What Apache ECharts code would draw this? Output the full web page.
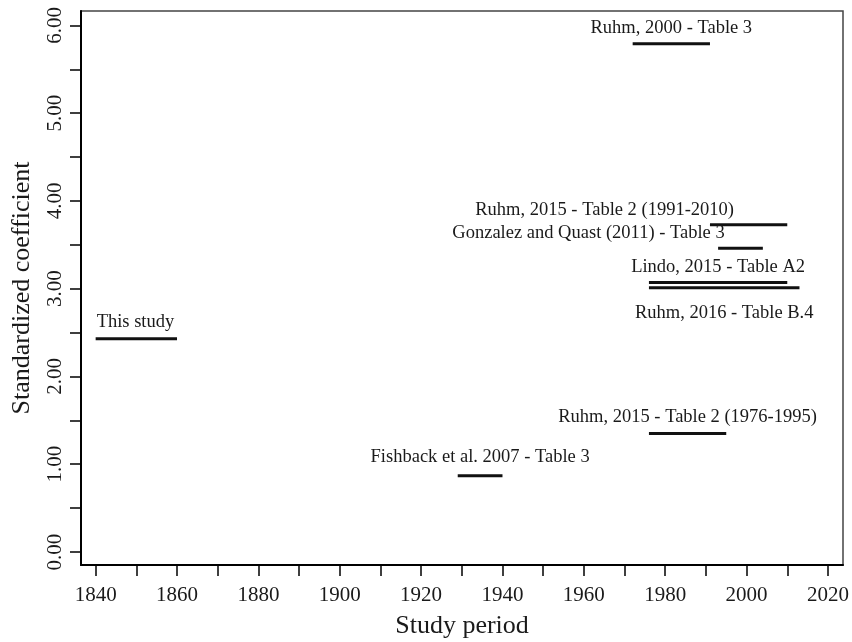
<!DOCTYPE html>
<html>
<head>
<meta charset="utf-8">
<script src="https://cdn.jsdelivr.net/npm/echarts@6/dist/echarts.min.js"></script>
<style>
html,body{margin:0;padding:0;background:#fff;}
#chart{width:852px;height:642px;}
</style>
</head>
<body>
<div id="chart"></div>
<script>
// ---- data ----
const studies = [
  'This study',
  'Fishback et al. 2007 - Table 3',
  'Ruhm, 2015 - Table 2 (1976-1995)',
  'Ruhm, 2000 - Table 3',
  'Ruhm, 2015 - Table 2 (1991-2010)',
  'Gonzalez and Quast (2011) - Table 3',
  'Lindo, 2015 - Table A2',
  'Ruhm, 2016 - Table B.4'
];
const startYear = [1840, 1929, 1976, 1972, 1991, 1993, 1976, 1976];
const endYear   = [1860, 1940, 1995, 1991, 2010, 2004, 2010, 2013];
const coefficient = [2.43, 0.87, 1.35, 5.79, 3.73, 3.46, 3.07, 3.01];

const xTickValues = [1840,1850,1860,1870,1880,1890,1900,1910,1920,1930,1940,1950,1960,1970,1980,1990,2000,2010,2020];
const xLabelValues = [1840,1860,1880,1900,1920,1940,1960,1980,2000,2020];
const yTickValues = [0,0.5,1,1.5,2,2.5,3,3.5,4,4.5,5,5.5,6];
const yLabelValues = [0,1,2,3,4,5,6];

// ---- label styling (pixel offsets from segment) ----
const labelAlign = ['left','center','center','center','center','center','center','center'];
const labelDx = [1, 0, 0, 0, -144, -152, 0, 0];
const labelDy = [-17, -19, -16, -16, -14, -15, -15, 25];

const FONT = '"Liberation Serif", "Times New Roman", serif';
const TEXT = '#1a1a1a';

const seriesData = studies.map((s, i) => [startYear[i], endYear[i], coefficient[i], i]);

const chart = echarts.init(document.getElementById('chart'));
chart.setOption({
  backgroundColor: '#fff',
  animation: false,
  grid: {
    left: 81, right: 9, top: 11, bottom: 77,
    outerBoundsMode: 'none',
    containLabel: false,
    show: true, borderColor: '#444', borderWidth: 1.5, backgroundColor: 'transparent'
  },
  xAxis: {
    type: 'value',
    min: 1836.4, max: 2023.7,
    name: 'Study period',
    nameLocation: 'middle',
    nameGap: 48,
    nameTextStyle: { fontFamily: FONT, fontSize: 26, color: TEXT },
    axisLine: { show: true, onZero: false, lineStyle: { color: '#000', width: 2 } },
    axisTick: { show: true, length: 11, lineStyle: { color: '#000', width: 1.5 }, customValues: xTickValues },
    axisLabel: { fontFamily: FONT, fontSize: 21, color: TEXT, margin: 20, customValues: xLabelValues,
      formatter: v => String(Math.round(v)) },
    splitLine: { show: false }
  },
  yAxis: {
    type: 'value',
    min: -0.148, max: 6.164,
    name: 'Standardized coefficient',
    nameLocation: 'middle',
    nameRotate: 90,
    nameGap: 46,
    nameTextStyle: { fontFamily: FONT, fontSize: 26, color: TEXT },
    axisLine: { show: true, onZero: false, lineStyle: { color: '#000', width: 2 } },
    axisTick: { show: true, length: 11, lineStyle: { color: '#000', width: 1.5 }, customValues: yTickValues },
    axisLabel: {
      fontFamily: FONT, fontSize: 21, color: TEXT, margin: 15, rotate: 90,
      customValues: yLabelValues,
      formatter: v => Number(v).toFixed(2)
    },
    splitLine: { show: false }
  },
  series: [{
    type: 'custom',
    encode: { x: [0, 1], y: 2 },
    data: seriesData,
    renderItem: function (params, api) {
      const i = api.value(3);
      const p1 = api.coord([api.value(0), api.value(2)]);
      const p2 = api.coord([api.value(1), api.value(2)]);
      const align = labelAlign[i];
      const tx = (align === 'left' ? p1[0] : (p1[0] + p2[0]) / 2) + labelDx[i];
      const ty = p1[1] + labelDy[i];
      return {
        type: 'group',
        children: [
          { type: 'line', shape: { x1: p1[0], y1: p1[1], x2: p2[0], y2: p2[1] },
            style: { stroke: '#111', lineWidth: 3, lineCap: 'butt' } },
          { type: 'text', x: tx, y: ty,
            style: { text: studies[i], fontFamily: FONT, fontSize: 18.5, fill: TEXT,
                     align: align, verticalAlign: 'middle' } }
        ]
      };
    }
  }]
});
</script>
</body>
</html>
